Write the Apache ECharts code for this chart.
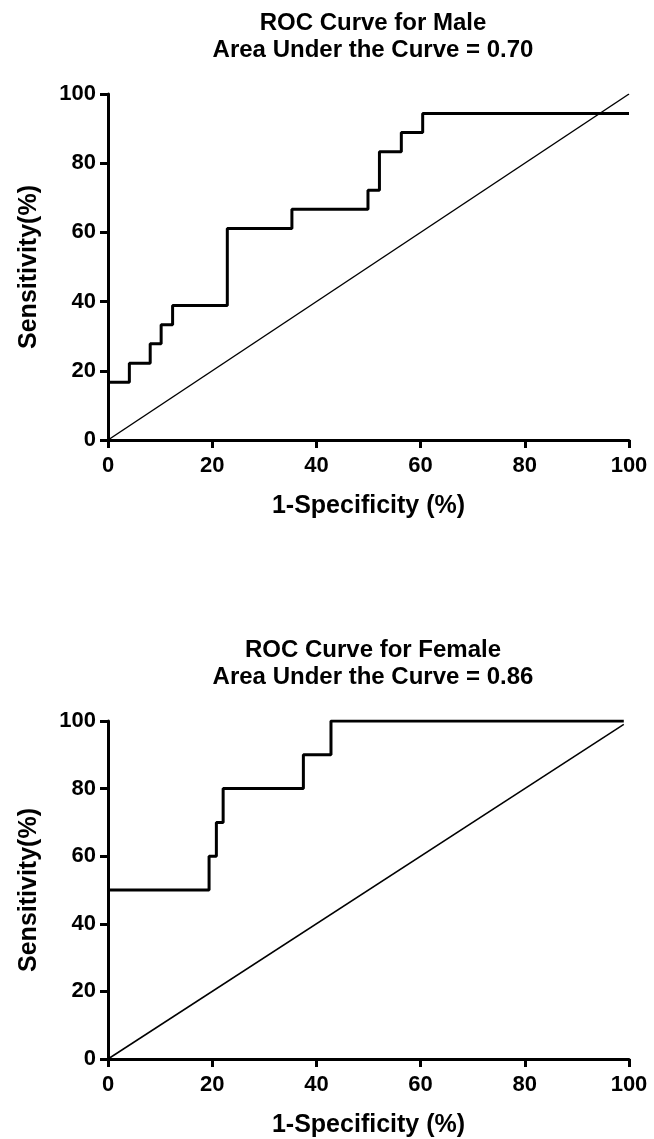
<!DOCTYPE html>
<html>
<head>
<meta charset="utf-8">
<script src="https://cdn.jsdelivr.net/npm/echarts@6/dist/echarts.min.js"></script>
<style>
html,body{margin:0;padding:0;background:#fff;}
#c{width:654px;height:1139px;}
</style>
</head>
<body>
<div id="c"></div>
<script>
// Data (percent)
const maleFpr = [0, 4.1, 8.1, 10.2, 12.4, 22.9, 35.3, 49.9, 52.1, 56.3, 60.4, 100];
const maleTpr = [16.7, 22.2, 27.8, 33.3, 38.9, 61.1, 66.7, 72.2, 83.3, 88.9, 94.4, 94.4];
const femaleFpr = [0, 19.4, 20.8, 22.1, 37.5, 42.8, 99];
const femaleTpr = [50, 60, 70, 80, 90, 100, 100];
const maleRefX = [0, 100];
const maleRefY = [0, 100];
const femaleRefX = [0, 99];
const femaleRefY = [0, 99];
const titles = ['ROC Curve for Male\nArea Under the Curve = 0.70', 'ROC Curve for Female\nArea Under the Curve = 0.86'];
const xName = '1-Specificity (%)';
const yName = 'Sensitivity(%)';

const FONT = '"Liberation Sans", Arial, sans-serif';
const zip = (a, b) => a.map((v, i) => [v, b[i]]);

function xAxis(gi) {
  return {
    type: 'value', gridIndex: gi, min: 0, max: 100, interval: 20,
    name: xName, nameLocation: 'middle', nameGap: 54,
    nameTextStyle: {fontFamily: FONT, fontWeight: 'bold', fontSize: 25, color: '#000'},
    axisLine: {show: true, onZero: false, lineStyle: {color: '#000', width: 3}},
    axisTick: {show: true, length: 8, lineStyle: {color: '#000', width: 3}},
    axisLabel: {fontFamily: FONT, fontWeight: 'bold', fontSize: 22, color: '#000', margin: 15},
    splitLine: {show: false}
  };
}
function yAxis(gi) {
  return {
    type: 'value', gridIndex: gi, min: 0, max: 100, interval: 20,
    name: yName, nameLocation: 'middle', nameGap: 66, nameRotate: 90,
    nameTextStyle: {fontFamily: FONT, fontWeight: 'bold', fontSize: 25, color: '#000'},
    axisLine: {show: true, onZero: false, lineStyle: {color: '#000', width: 3}},
    axisTick: {show: true, length: 8, lineStyle: {color: '#000', width: 3}},
    axisLabel: {fontFamily: FONT, fontWeight: 'bold', fontSize: 22, color: '#000', margin: 12},
    splitLine: {show: false}
  };
}
function curve(gi, data, w) {
  return {
    type: 'line', xAxisIndex: gi, yAxisIndex: gi, data: data, step: 'end',
    symbol: 'none', lineStyle: {color: '#000', width: w}, silent: true, animation: false
  };
}
function refLine(gi, data) {
  return {
    type: 'line', xAxisIndex: gi, yAxisIndex: gi, data: data,
    symbol: 'none', lineStyle: {color: '#000', width: 1.5}, silent: true, animation: false
  };
}

const chart = echarts.init(document.getElementById('c'), null, {renderer: 'canvas'});
chart.setOption({
  backgroundColor: '#fff',
  animation: false,
  title: [
    {text: titles[0], left: 368, top: 5, textAlign: 'center',
     textStyle: {fontFamily: FONT, fontWeight: 'bold', fontSize: 24, color: '#000', lineHeight: 27}},
    {text: titles[1], left: 368, top: 632, textAlign: 'center',
     textStyle: {fontFamily: FONT, fontWeight: 'bold', fontSize: 24, color: '#000', lineHeight: 27}}
  ],
  grid: [
    {left: 108, top: 94, width: 521, height: 346},
    {left: 108, top: 721, width: 521, height: 338}
  ],
  xAxis: [xAxis(0), xAxis(1)],
  yAxis: [yAxis(0), yAxis(1)],
  series: [
    refLine(0, zip(maleRefX, maleRefY)),
    curve(0, zip(maleFpr, maleTpr), 3),
    refLine(1, zip(femaleRefX, femaleRefY)),
    curve(1, zip(femaleFpr, femaleTpr), 3)
  ]
});
</script>
</body>
</html>
